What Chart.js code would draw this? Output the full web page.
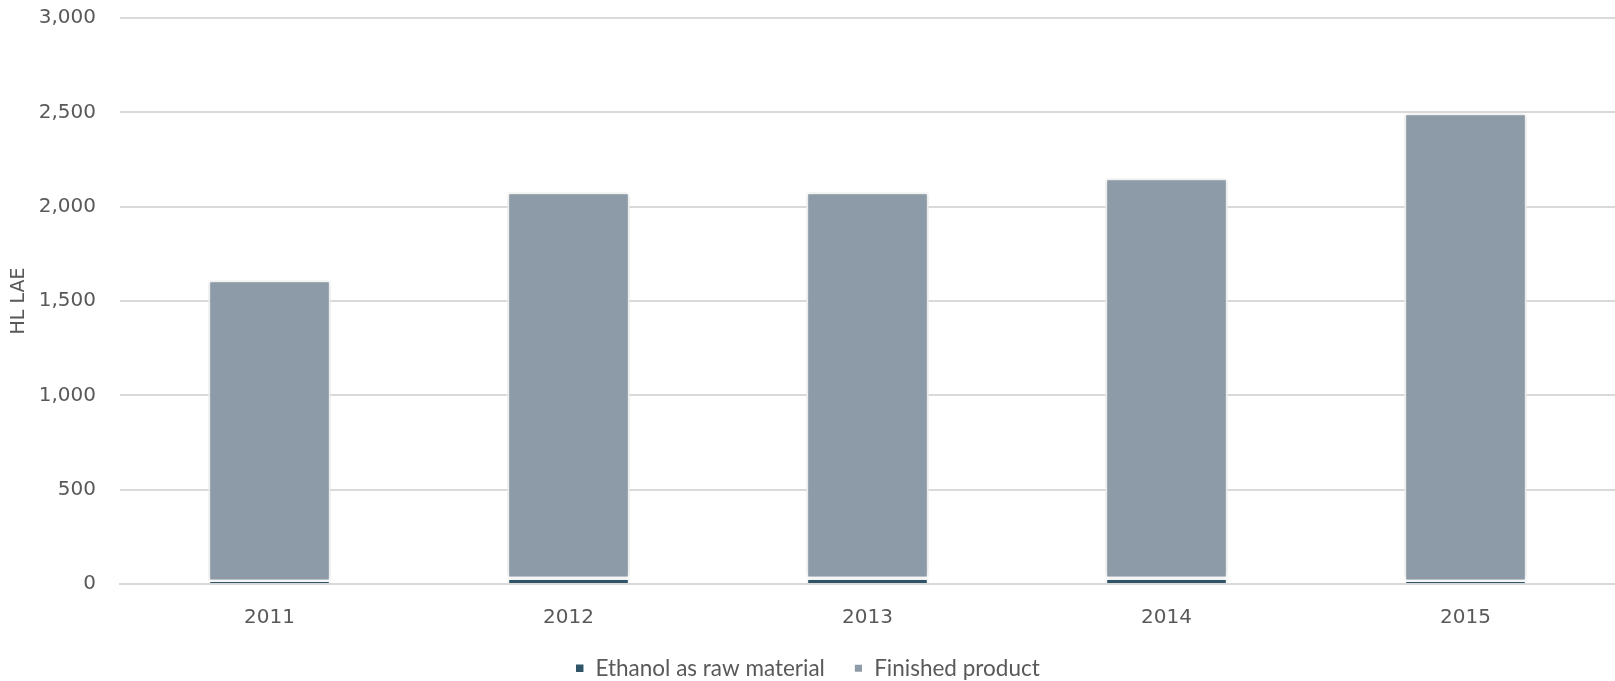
<!DOCTYPE html>
<html>
<head>
<meta charset="utf-8">
<script src="https://cdn.jsdelivr.net/npm/chart.js@4/dist/chart.umd.min.js"></script>
<style>
  html, body { margin: 0; padding: 0; background: #fff; }
  #wrap { width: 1615px; height: 681px; }
</style>
</head>
<body>
<div id="wrap"><canvas id="barChart" width="1615" height="681"></canvas></div>
<script>
// data
const years = ['2011', '2012', '2013', '2014', '2015'];
const ethanol = [16, 32, 32, 32, 16];
const finished = [1594, 2045, 2045, 2118, 2479];
const yTicks = [0, 500, 1000, 1500, 2000, 2500, 3000];

// soft shadow around the bars, like the office chart
const barShadow = {
  id: 'barShadow',
  afterInit(chart) {
    // make the legend box a fixed height so it sits near the bottom
    const fit = chart.legend.fit;
    chart.legend.fit = function () {
      fit.call(this);
      this.height = 53;
    };
  },
  beforeDatasetsDraw(chart) {
    const ctx = chart.ctx;
    ctx.save();
    ctx.shadowColor = 'rgba(0,0,0,0.18)';
    ctx.shadowBlur = 5;
  },
  afterDatasetsDraw(chart) {
    chart.ctx.restore();
  }
};

const ctx = document.getElementById('barChart');
new Chart(ctx, {
  type: 'bar',
  data: {
    labels: years,
    datasets: [
      {
        label: 'Ethanol as raw material',
        data: ethanol,
        backgroundColor: '#2f5468',
        borderColor: '#ffffff',
        borderWidth: { top: 2, left: 2, right: 2, bottom: 0 },
        borderSkipped: false
      },
      {
        label: 'Finished product',
        data: finished,
        backgroundColor: '#8c9ba7',
        borderColor: '#ffffff',
        borderWidth: { top: 2, left: 2, right: 2, bottom: 1.5 },
        borderSkipped: false
      }
    ]
  },
  options: {
    responsive: false,
    animation: false,
    layout: { padding: { top: 18, right: 0, left: 0, bottom: 0 } },
    datasets: { bar: { categoryPercentage: 1, barPercentage: 0.41 } },
    scales: {
      x: {
        stacked: true,
        grid: { display: false, drawTicks: false },
        border: { color: '#d9d9d9', width: 2 },
        ticks: { color: '#595959', font: { family: 'DejaVu Sans', size: 20 }, padding: 22 },
        afterFit(axis) { axis.height = 44; }
      },
      y: {
        stacked: true,
        min: 0,
        max: 3000,
        afterBuildTicks(axis) { axis.ticks = yTicks.map(v => ({ value: v })); },
        afterFit(axis) {
          axis.width = 120;
          axis.paddingTop = 0;
          axis.paddingBottom = 0;
        },
        grid: { color: '#d9d9d9', lineWidth: 2, drawTicks: false },
        border: { display: false },
        ticks: {
          color: '#595959',
          font: { family: 'DejaVu Sans', size: 20 },
          padding: 24,
          callback: v => v.toLocaleString('en-US')
        },
        title: {
          display: true,
          text: 'HL LAE',
          color: '#595959',
          font: { family: 'DejaVu Sans', size: 19 },
          padding: { top: 8, bottom: 0 }
        }
      }
    },
    plugins: {
      legend: {
        position: 'bottom',
        labels: {
          color: '#595959',
          font: { family: 'Lato', size: 22.5 },
          boxWidth: 9,
          boxHeight: 9,
          padding: 29
        }
      },
      tooltip: { enabled: false }
    }
  },
  plugins: [barShadow]
});
</script>
</body>
</html>
